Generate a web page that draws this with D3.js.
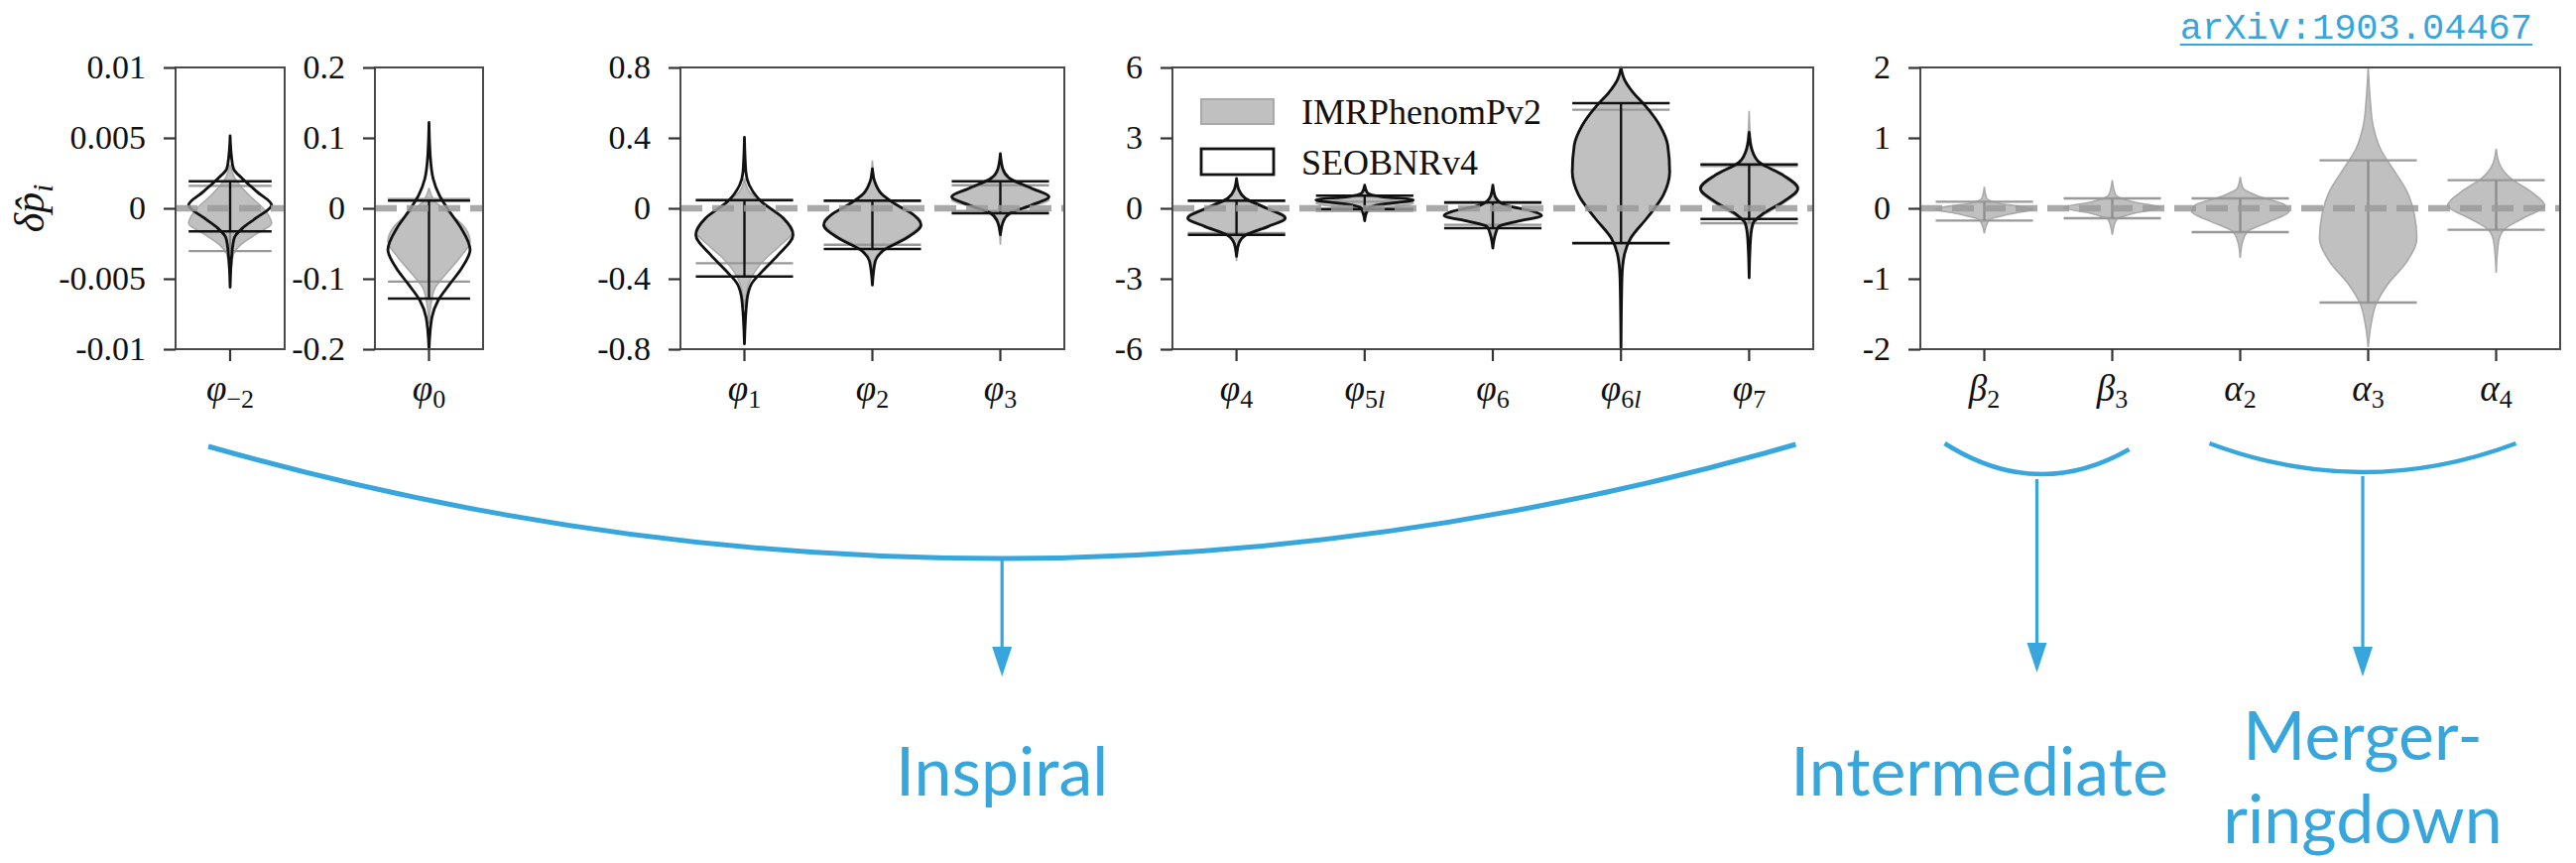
<!DOCTYPE html>
<html>
<head>
<meta charset="utf-8">
<script src="https://cdn.jsdelivr.net/npm/d3@7"></script>
<style>
  html, body { margin: 0; padding: 0; background: #fff; }
  svg { display: block; }
</style>
</head>
<body>
<svg id="chart" width="2597" height="870"></svg>
<script>
// ---------------- data ----------------
// Parameters (symbol + subscript) and the panel each one belongs to
const paramSymbols    = ["φ", "φ", "φ", "φ", "φ", "φ", "φ", "φ", "φ", "φ", "β", "β", "α", "α", "α"];
const paramSubscripts = ["−2", "0", "1", "2", "3", "4", "5l", "6", "6l", "7", "2", "3", "2", "3", "4"];
const paramPanel      = [0, 1, 2, 2, 2, 3, 3, 3, 3, 3, 4, 4, 4, 4, 4];

// Symmetric y-limits of each panel, tick values and tick labels
const panelLimits = [0.01, 0.2, 0.8, 6, 2];
const panelTicks = [
  [-0.01, -0.005, 0, 0.005, 0.01],
  [-0.2, -0.1, 0, 0.1, 0.2],
  [-0.8, -0.4, 0, 0.4, 0.8],
  [-6, -3, 0, 3, 6],
  [-2, -1, 0, 1, 2]
];
const panelTickLabels = [
  ["-0.01", "-0.005", "0", "0.005", "0.01"],
  ["-0.2", "-0.1", "0", "0.1", "0.2"],
  ["-0.8", "-0.4", "0", "0.4", "0.8"],
  ["-6", "-3", "0", "3", "6"],
  ["-2", "-1", "0", "1", "2"]
];

// Violin profiles: [value, relative half-width] from the upper tip to the lower tip
// IMRPhenomPv2 (all 15 parameters)
const imrProfiles = [
  [[0.0031,0],[0.0021,0.12],[0.00094,0.45],[0,0.8],[-0.00106,1],[-0.00188,0.6],[-0.0026,0.25],[-0.0033,0.08],[-0.0045,0.02],[-0.0049,0]],
  [[0.029,0],[0.0094,0.15],[-0.0094,0.55],[-0.028,0.88],[-0.047,1],[-0.070,0.75],[-0.094,0.4],[-0.113,0.15],[-0.136,0.05],[-0.164,0]],
  [[0.17,0],[0.094,0.1],[0.019,0.45],[-0.066,0.85],[-0.131,1],[-0.207,0.75],[-0.282,0.45],[-0.357,0.22],[-0.432,0.08],[-0.526,0.02],[-0.563,0]],
  [[0.272,0],[0.15,0.05],[0.075,0.2],[0,0.65],[-0.075,1],[-0.15,0.75],[-0.216,0.3],[-0.282,0.06],[-0.357,0]],
  [[0.263,0],[0.188,0.08],[0.131,0.4],[0.075,0.95],[0.047,1],[0.009,0.6],[-0.038,0.15],[-0.094,0.04],[-0.207,0]],
  [[1.13,0],[0.563,0.1],[0.141,0.5],[-0.352,1],[-0.775,0.6],[-1.127,0.18],[-1.549,0.04],[-2.25,0]],
  [[0.92,0],[0.563,0.06],[0.394,0.45],[0.211,1],[0.028,0.5],[-0.141,0.08],[-0.423,0]],
  [[0.70,0],[0.21,0.12],[-0.07,0.7],[-0.28,1],[-0.535,0.5],[-0.845,0.08],[-1.41,0]],
  [[5.9,0],[5.4,0.08],[4.9,0.26],[4.3,0.52],[3.5,0.8],[2.68,0.96],[1.55,1],[0.56,0.87],[-0.42,0.53],[-1.27,0.2],[-1.97,0.07],[-2.6,0.02],[-3.2,0]],
  [[4.15,0],[2.96,0.03],[2.11,0.15],[1.41,0.65],[0.775,1],[0.141,0.65],[-0.423,0.2],[-0.845,0.05],[-1.27,0]],
  [[0.305,0],[0.141,0.05],[0.07,0.3],[-0.01,1],[-0.085,0.5],[-0.164,0.1],[-0.352,0]],
  [[0.399,0],[0.188,0.07],[0.094,0.4],[0.009,1],[-0.07,0.45],[-0.164,0.08],[-0.376,0]],
  [[0.446,0],[0.282,0.06],[0.164,0.4],[0.047,0.92],[-0.047,1],[-0.188,0.6],[-0.329,0.15],[-0.47,0.05],[-0.704,0]],
  [[1.996,0],[1.549,0.04],[1.173,0.1],[0.845,0.25],[0.516,0.55],[0.235,0.8],[-0.094,0.95],[-0.423,1],[-0.751,0.8],[-1.08,0.4],[-1.362,0.16],[-1.643,0.06],[-1.97,0]],
  [[0.845,0],[0.61,0.08],[0.423,0.3],[0.235,0.72],[0.038,1],[-0.141,0.55],[-0.305,0.16],[-0.469,0.05],[-0.915,0]]
];
// SEOBNRv4 (inspiral parameters only)
const seobProfiles = [
  [[0.00514,0],[0.00375,0.03],[0.00282,0.08],[0.0021,0.3],[0.00117,0.65],[0.00023,1],[-0.0007,0.62],[-0.0014,0.3],[-0.0021,0.1],[-0.0033,0.04],[-0.0056,0]],
  [[0.122,0],[0.075,0.03],[0.0423,0.1],[0.0188,0.25],[-0.0047,0.5],[-0.028,0.78],[-0.0587,1],[-0.0845,0.8],[-0.108,0.5],[-0.131,0.22],[-0.155,0.07],[-0.1996,0]],
  [[0.404,0],[0.207,0.03],[0.131,0.1],[0.0376,0.35],[-0.056,0.8],[-0.15,1],[-0.263,0.7],[-0.357,0.37],[-0.432,0.14],[-0.526,0.05],[-0.77,0]],
  [[0.225,0],[0.15,0.05],[0.0845,0.18],[0.019,0.5],[-0.038,0.85],[-0.094,1],[-0.169,0.7],[-0.235,0.25],[-0.3,0.06],[-0.436,0]],
  [[0.31,0],[0.225,0.05],[0.169,0.2],[0.113,0.65],[0.066,1],[0.019,0.65],[-0.028,0.2],[-0.075,0.06],[-0.15,0]],
  [[1.27,0],[0.775,0.05],[0.423,0.18],[0,0.62],[-0.423,1],[-0.775,0.65],[-1.127,0.2],[-1.479,0.05],[-2.04,0]],
  [[0.986,0],[0.676,0.05],[0.493,0.35],[0.352,1],[0.183,0.4],[0.028,0.08],[-0.211,0.03],[-0.535,0]],
  [[0.986,0],[0.493,0.05],[0.141,0.25],[-0.141,0.85],[-0.31,1],[-0.535,0.55],[-0.775,0.12],[-1.127,0.05],[-1.69,0]],
  [[5.99,0],[5.49,0.07],[4.93,0.25],[4.37,0.5],[3.52,0.8],[2.68,0.96],[1.55,1],[0.563,0.87],[-0.423,0.53],[-1.27,0.2],[-1.97,0.07],[-2.96,0.02],[-5.99,0]],
  [[3.24,0],[2.54,0.05],[1.97,0.2],[1.41,0.7],[0.845,1],[0.282,0.7],[-0.211,0.3],[-0.634,0.08],[-1.27,0.03],[-2.96,0]]
];

// 90% credible bounds [lower, upper]
const imrBounds = [
  [-0.00303, 0.0016], [-0.104, 0.013], [-0.312, 0.045], [-0.207, 0.04], [-0.015, 0.131],
  [-1.056, 0.30], [-0.11, 0.28], [-0.704, 0.22], [-1.5, 4.20], [-0.634, 1.80],
  [-0.174, 0.094], [-0.141, 0.141], [-0.338, 0.141], [-1.338, 0.68], [-0.305, 0.399]
];
const seobBounds = [
  [-0.00164, 0.00192], [-0.128, 0.0108], [-0.387, 0.047], [-0.231, 0.043], [-0.028, 0.154],
  [-1.127, 0.324], [-0.03, 0.535], [-0.845, 0.254], [-1.48, 4.48], [-0.45, 1.87]
];

const legendLabels = ["IMRPhenomPv2", "SEOBNRv4"];
const groupLabels = ["Inspiral", "Intermediate", "Merger-", "ringdown"];
const citation = "arXiv:1903.04467";

// ---------------- layout ----------------
const svg = d3.select("#chart");
const plotTop = 68, plotBottom = 352;
const panelExtents = [[177, 287], [378, 487], [686, 1073], [1182, 1828], [1936, 2581]];
const serif = "'Liberation Serif', 'Times New Roman', serif";
const blue = "#37a6dc";
const centers = [];

panelExtents.forEach((ext, pi) => {
  const ids = d3.range(paramSymbols.length).filter(i => paramPanel[i] === pi);
  const x = d3.scaleBand().domain(ids).range(ext);
  const y = d3.scaleLinear().domain([-panelLimits[pi], panelLimits[pi]]).range([plotBottom, plotTop]);
  const g = svg.append("g");
  const hw = x.bandwidth() * 0.38;

  const violin = (cx) => d3.area()
    .y(d => y(d[0]))
    .x0(d => cx - d[1] * hw)
    .x1(d => cx + d[1] * hw)
    .curve(d3.curveMonotoneY);

  // IMRPhenomPv2: filled grey violins
  ids.forEach(i => {
    const cx = x(i) + x.bandwidth() / 2;
    centers[i] = cx;
    g.append("path").attr("d", violin(cx)(imrProfiles[i]))
      .attr("fill", "#c0c0c0").attr("stroke", "#a9a9a9").attr("stroke-width", 1.6);
    const [lo, hi] = imrBounds[i];
    [lo, hi].forEach(v => g.append("line")
      .attr("x1", cx - hw).attr("x2", cx + hw).attr("y1", y(v)).attr("y2", y(v))
      .attr("stroke", "#999").attr("stroke-width", 2.3));
    g.append("line").attr("x1", cx).attr("x2", cx).attr("y1", y(hi)).attr("y2", y(lo))
      .attr("stroke", "#8c8c8c").attr("stroke-width", 2.3);
  });

  // SEOBNRv4: black outlines
  ids.filter(i => i < seobProfiles.length).forEach(i => {
    const cx = centers[i];
    g.append("path").attr("d", violin(cx)(seobProfiles[i]))
      .attr("fill", "none").attr("stroke", "#111").attr("stroke-width", 2.8)
      .attr("stroke-linejoin", "round");
    const [lo, hi] = seobBounds[i];
    [lo, hi].forEach(v => g.append("line")
      .attr("x1", cx - hw).attr("x2", cx + hw).attr("y1", y(v)).attr("y2", y(v))
      .attr("stroke", "#111").attr("stroke-width", 2.5));
    g.append("line").attr("x1", cx).attr("x2", cx).attr("y1", y(hi)).attr("y2", y(lo))
      .attr("stroke", "#111").attr("stroke-width", 2.3);
  });

  // zero reference
  g.append("line").attr("x1", ext[0]).attr("x2", ext[1]).attr("y1", y(0)).attr("y2", y(0))
    .attr("stroke", "#9a9a9a").attr("stroke-opacity", 0.85)
    .attr("stroke-width", 6.5).attr("stroke-dasharray", "22,10");

  // frame
  g.append("rect").attr("x", ext[0]).attr("y", plotTop)
    .attr("width", ext[1] - ext[0]).attr("height", plotBottom - plotTop)
    .attr("fill", "none").attr("stroke", "#4a4a4a").attr("stroke-width", 2);

  // y axis
  const yAxis = d3.axisLeft(y).tickValues(panelTicks[pi])
    .tickFormat((d, k) => panelTickLabels[pi][k]).tickSize(12).tickPadding(18);
  const ya = g.append("g").attr("transform", `translate(${ext[0]},0)`).call(yAxis);
  ya.select(".domain").remove();
  ya.selectAll(".tick line").attr("stroke", "#333").attr("stroke-width", 2.2);
  ya.selectAll(".tick text").attr("fill", "#111")
    .style("font-family", serif).style("font-size", "34px");

  // x axis
  const xAxis = d3.axisBottom(x).tickSize(12).tickFormat("");
  const xa = g.append("g").attr("transform", `translate(0,${plotBottom})`).call(xAxis);
  xa.select(".domain").remove();
  xa.selectAll(".tick line").attr("stroke", "#333").attr("stroke-width", 2.2);

  ids.forEach(i => {
    const t = g.append("text").attr("x", centers[i]).attr("y", 404)
      .attr("text-anchor", "middle").attr("fill", "#111")
      .style("font-family", serif).style("font-size", "37px");
    t.append("tspan").style("font-style", "italic").text(paramSymbols[i]);
    const sub = paramSubscripts[i];
    [...sub].forEach((ch, k) => {
      const s = t.append("tspan").style("font-size", "26px")
        .style("font-style", /[a-z]/.test(ch) ? "italic" : "normal").text(ch);
      if (k === 0) s.attr("dy", 7);
    });
  });

  // legend inside the fourth panel
  if (pi === 3) {
    const lg = g.append("g").attr("transform", `translate(${ext[0] + 29},100)`);
    lg.append("rect").attr("x", 0).attr("y", 0).attr("width", 73).attr("height", 25)
      .attr("fill", "#c0c0c0").attr("stroke", "#a9a9a9").attr("stroke-width", 2);
    lg.append("rect").attr("x", 0).attr("y", 50).attr("width", 73).attr("height", 26)
      .attr("fill", "#fff").attr("stroke", "#111").attr("stroke-width", 2.8);
    legendLabels.forEach((lab, k) => lg.append("text")
      .attr("x", 101).attr("y", 25 + k * 51).attr("fill", "#111")
      .style("font-family", serif).style("font-size", "36px").text(lab));
  }
});

// y-axis title
const ylab = svg.append("text").attr("transform", "translate(44,210) rotate(-90)")
  .attr("text-anchor", "middle").attr("fill", "#111")
  .style("font-family", serif).style("font-style", "italic").style("font-size", "42px");
ylab.append("tspan").text("δ");
ylab.append("tspan").text("p\u0302");
ylab.append("tspan").attr("dy", 9).style("font-size", "29px").text("i");

// citation
const cite = svg.append("text").attr("x", 2553).attr("y", 39).attr("text-anchor", "end")
  .attr("fill", blue).style("font-family", "'Liberation Mono', 'Courier New', monospace")
  .style("font-size", "37px").text(citation);
const cb = cite.node().getBBox();
svg.append("line").attr("x1", cb.x).attr("x2", cb.x + cb.width).attr("y1", 45).attr("y2", 45)
  .attr("stroke", blue).attr("stroke-width", 2.2);

// grouping braces with arrows and captions
const ann = svg.append("g");
function brace(x0, y0, x1, y1, yBottom, width) {
  const p = d3.path();
  p.moveTo(x0, y0);
  p.quadraticCurveTo((x0 + x1) / 2, 2 * yBottom - (y0 + y1) / 2, x1, y1);
  ann.append("path").attr("d", p.toString()).attr("fill", "none")
    .attr("stroke", blue).attr("stroke-width", width);
}
function arrow(xa, y0, tip) {
  ann.append("line").attr("x1", xa).attr("x2", xa).attr("y1", y0).attr("y2", tip - 24)
    .attr("stroke", blue).attr("stroke-width", 3.2);
  ann.append("path").attr("d", `M${xa - 10},${tip - 30}L${xa + 10},${tip - 30}L${xa},${tip}Z`)
    .attr("fill", blue);
}
function caption(xc, yb, txt) {
  ann.append("text").attr("x", xc).attr("y", yb).attr("text-anchor", "middle")
    .attr("fill", blue).style("font-family", "Lato, 'Open Sans', sans-serif")
    .style("font-size", "68px").text(txt);
}

const bigL = centers[0] - 22, bigR = centers[9] + 47;
brace(bigL, 450, bigR, 448, 563, 5);
const bigMid = (bigL + bigR) / 2;
arrow(bigMid, 562, 682);
caption(bigMid, 802, groupLabels[0]);

const intL = centers[10] - 40, intR = centers[11] + 17;
brace(intL, 447, intR, 453, 478, 4.5);
const intMid = (intL + intR) / 2;
arrow(intMid, 483, 678);
caption(intMid - 58, 802, groupLabels[1]);

const mrL = centers[12] - 31, mrR = centers[14] + 20;
brace(mrL, 447, mrR, 447, 476, 4.5);
const mrMid = (mrL + mrR) / 2;
arrow(mrMid, 480, 682);
caption(mrMid, 766, groupLabels[2]);
caption(mrMid, 850, groupLabels[3]);
</script>
</body>
</html>
